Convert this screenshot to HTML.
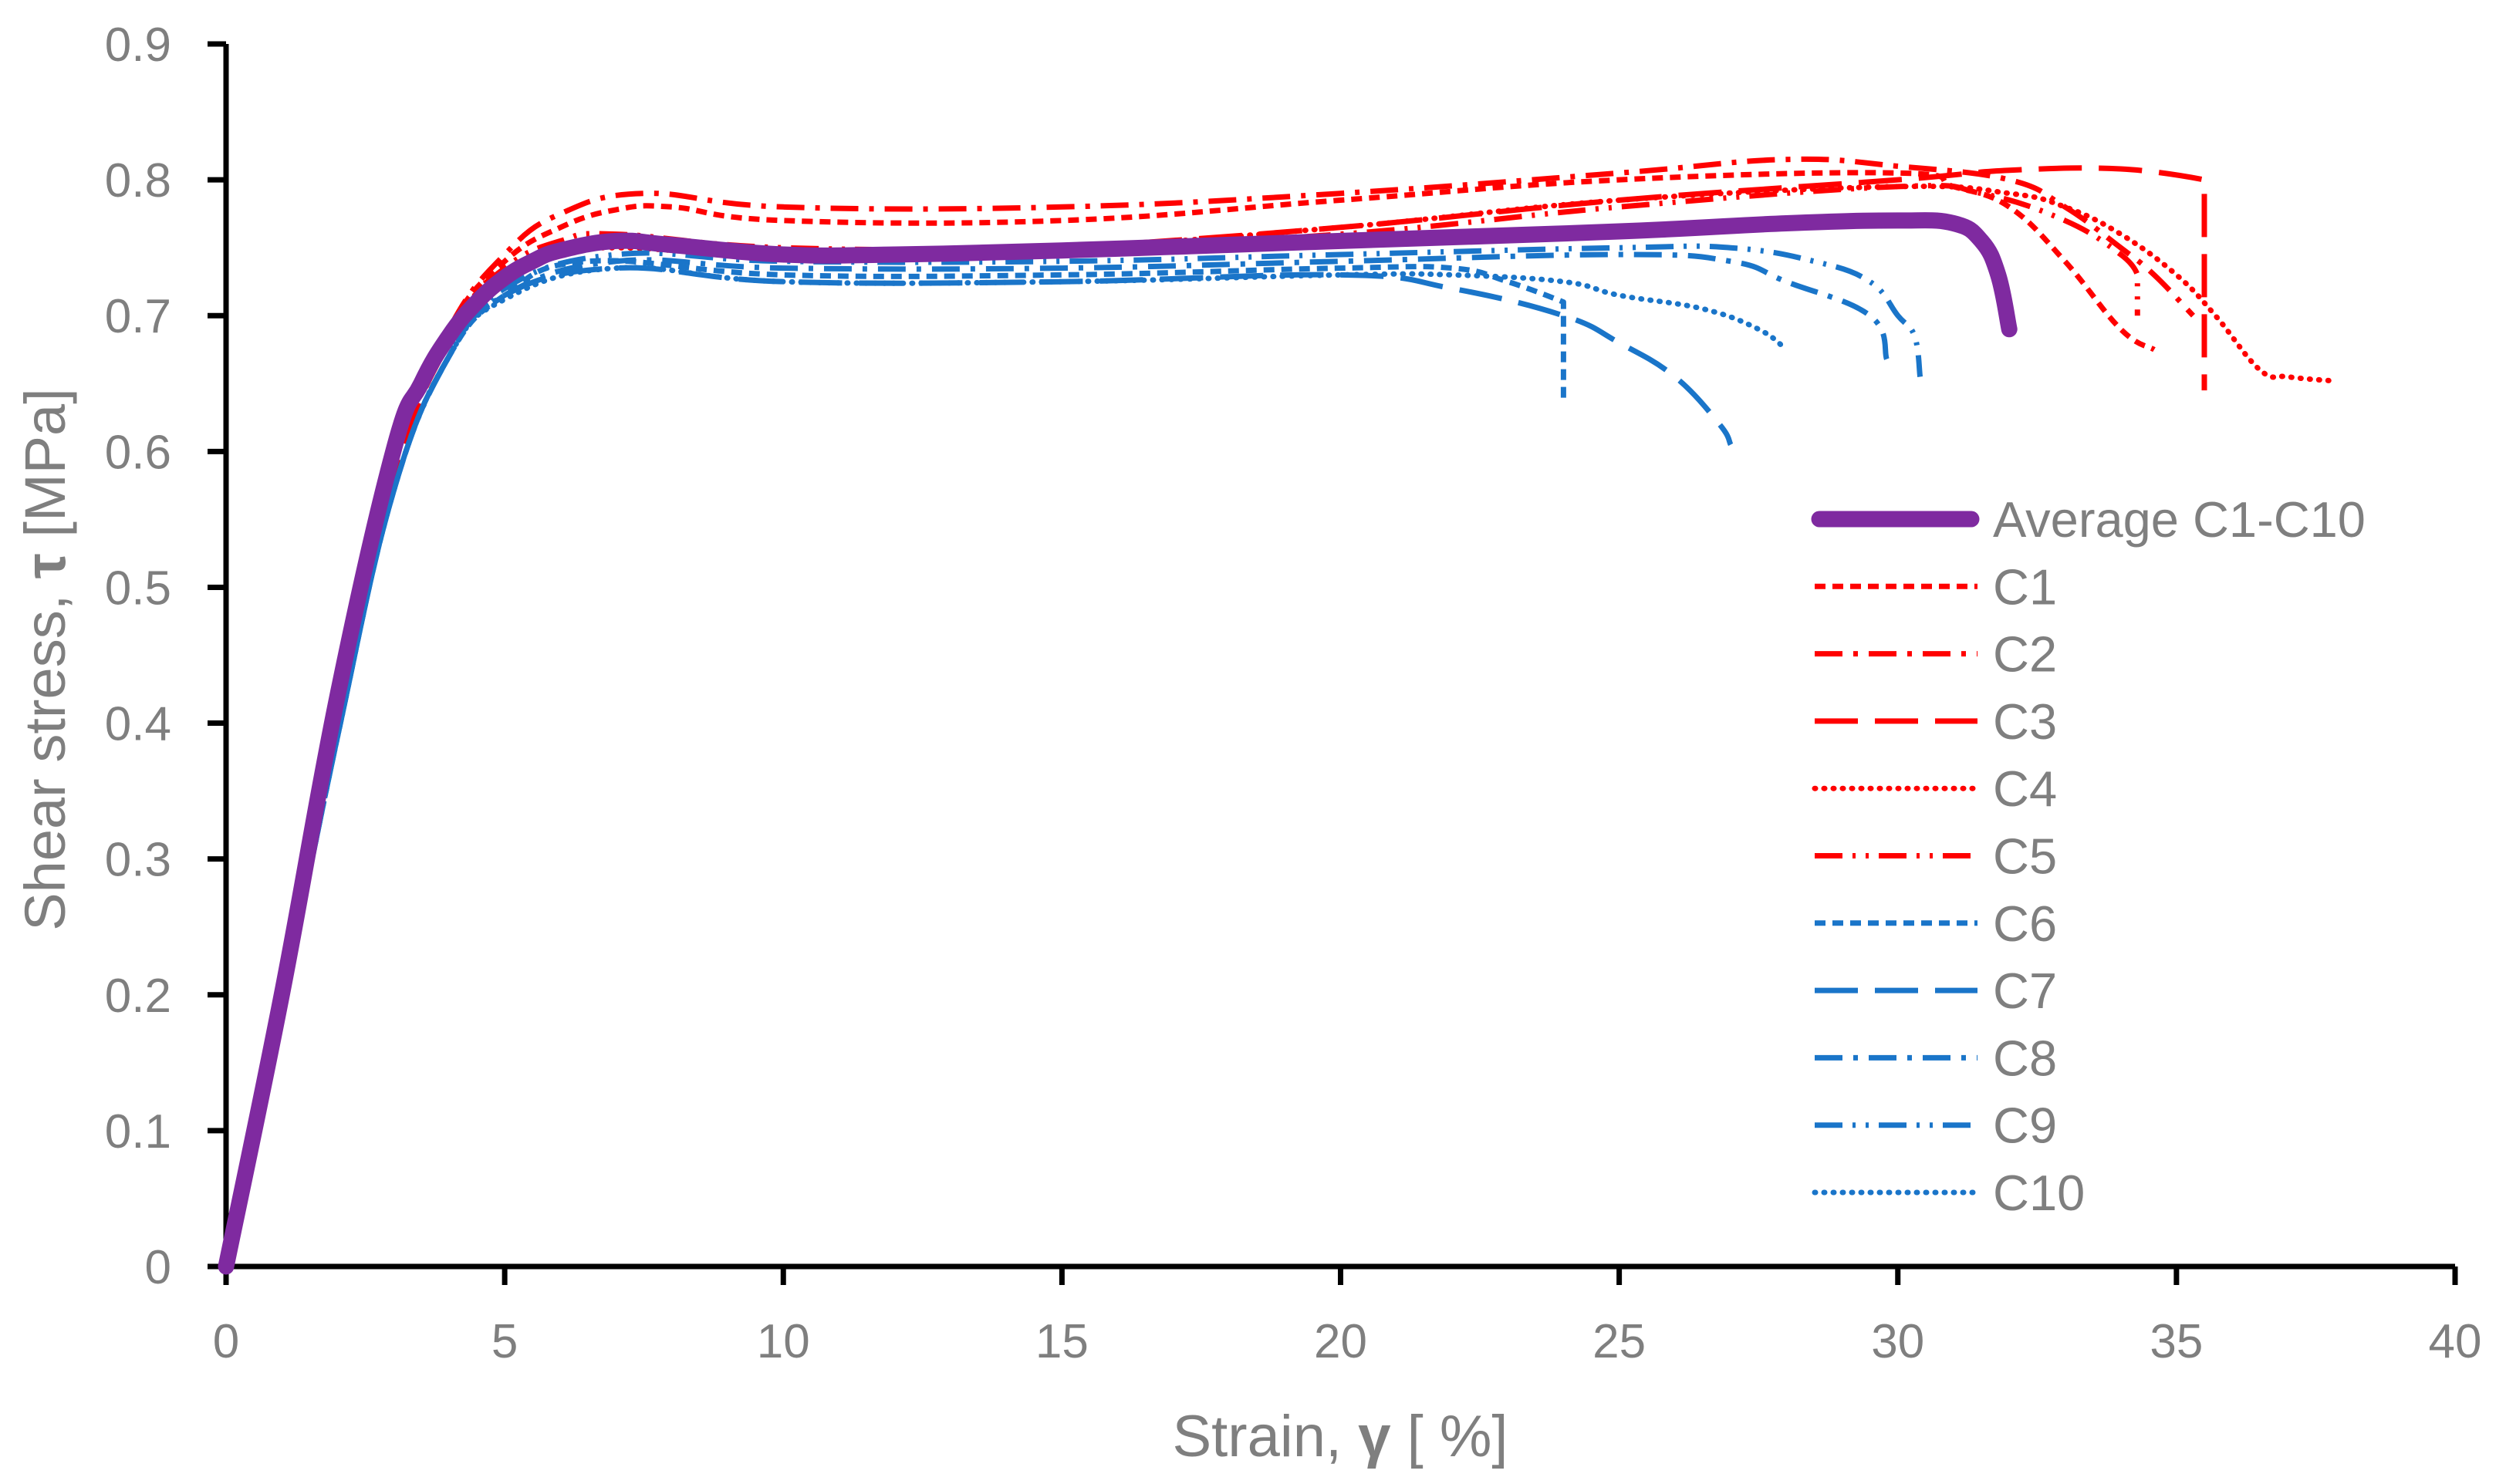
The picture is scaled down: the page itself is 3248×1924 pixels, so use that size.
<!DOCTYPE html>
<html><head><meta charset="utf-8"><style>
html,body{margin:0;padding:0;background:#fff;}
svg{display:block;font-family:"Liberation Sans","DejaVu Sans",sans-serif;}
</style></head><body>
<svg id="chart" width="3248" height="1924" viewBox="0 0 3248 1924" xmlns="http://www.w3.org/2000/svg">
<g id="grid"></g>
<g id="series"></g>
<g id="legend"></g>
<text x="1737" y="1888" text-anchor="middle" font-size="76" fill="#7f7f7f">Strain,  <tspan font-weight="bold">γ</tspan> [ %]</text>
<text transform="translate(84,855) rotate(-90)" text-anchor="middle" font-size="74" fill="#7f7f7f">Shear stress, <tspan font-weight="bold">τ</tspan>  [MPa]</text>
</svg>
<script>
const xTicks = [0,5,10,15,20,25,30,35,40];
const yTicks = [0,0.1,0.2,0.3,0.4,0.5,0.6,0.7,0.8,0.9];
const seriesNames = ["Average C1-C10","C1","C2","C3","C4","C5","C6","C7","C8","C9","C10"];
const avgX = [0,1,2,3,3.5,4,4.5,5,5.5,6,7,8,10,12,15,20,25,28,30,31,31.5,31.8,32];
const avgY = [0,0.2,0.42,0.6,0.65,0.685,0.71,0.728,0.74,0.748,0.755,0.752,0.745,0.745,0.748,0.755,0.762,0.768,0.77,0.768,0.755,0.73,0.69];
const c1X = [0,1,2,3,4,5,6,7,8,10,15,20,25,30,31,32,33,34,34.6];
const c1Y = [0,0.2,0.41,0.59,0.69,0.74,0.765,0.778,0.78,0.77,0.77,0.785,0.80,0.805,0.795,0.78,0.74,0.69,0.675];
const c2X = [0,1,2,3,4,5,6,7.5,10,15,20,25,28,30,32,33,34,34.6,35.3];
const c2Y = [0,0.2,0.41,0.59,0.69,0.745,0.775,0.79,0.78,0.78,0.79,0.805,0.815,0.81,0.80,0.78,0.75,0.73,0.70];
const c3X = [0,1,2,3,4,5,6,7,10,12,15,20,25,30,32,34,35.5,35.5];
const c3Y = [0,0.19,0.4,0.58,0.68,0.73,0.75,0.755,0.745,0.745,0.75,0.765,0.785,0.80,0.807,0.808,0.80,0.645];
const c4X = [0,1,2,3,4,5,6,7,10,15,20,25,30,32,33,34,35,35.7,36.5,37,37.8];
const c4Y = [0,0.2,0.41,0.59,0.69,0.73,0.745,0.75,0.745,0.75,0.765,0.785,0.795,0.79,0.78,0.76,0.73,0.70,0.66,0.655,0.652];
const c5X = [0,1,2,3,4,5,6,7,10,15,20,25,30,31.5,33,34,34.3,34.3];
const c5Y = [0,0.2,0.41,0.59,0.69,0.735,0.755,0.76,0.75,0.75,0.76,0.78,0.795,0.79,0.77,0.745,0.73,0.70];
const c6X = [0,1,2,3,4,5,6.5,10,15,20,22,23,24,24];
const c6Y = [0,0.19,0.39,0.57,0.67,0.715,0.74,0.73,0.73,0.735,0.735,0.725,0.71,0.635];
const c7X = [0,1,2,3,4,5,7,10,15,20,22,24,25,26,26.8,27];
const c7Y = [0,0.19,0.39,0.57,0.67,0.715,0.735,0.725,0.725,0.73,0.72,0.70,0.68,0.655,0.62,0.605];
const c8X = [0,1,2,3,4,5,7,10,15,20,25,27,28,29.5,29.8];
const c8Y = [0,0.19,0.39,0.57,0.67,0.715,0.74,0.735,0.735,0.74,0.745,0.74,0.725,0.70,0.668];
const c9X = [0,1,2,3,4,5,7,10,15,20,25,27,28.5,29.5,30,30.3,30.4];
const c9Y = [0,0.19,0.39,0.57,0.67,0.72,0.745,0.74,0.74,0.745,0.75,0.75,0.74,0.725,0.70,0.685,0.655];
const c10X = [0,1,2,3,4,5,7,10,15,20,22,24,25,26.5,27.5,28];
const c10Y = [0,0.19,0.39,0.57,0.67,0.712,0.735,0.725,0.725,0.73,0.73,0.725,0.715,0.705,0.69,0.675];

const X0=293,X1=3182,Y0=1642,Y1=57,XMAX=40,YMAX=0.9;
const sx=v=>X0+(X1-X0)*v/XMAX;
const sy=v=>Y0-(Y0-Y1)*v/YMAX;
const NS="http://www.w3.org/2000/svg";
function mk(tag,parent){const e=document.createElementNS(NS,tag);parent.appendChild(e);return e;}
const vert=(a,b)=>Math.abs(a[0]-b[0])<2;
function smooth(pts){
  let d='M'+pts[0][0].toFixed(1)+' '+pts[0][1].toFixed(1);
  for(let i=0;i<pts.length-1;i++){
    const p0=pts[Math.max(0,i-1)],p1=pts[i],p2=pts[i+1],p3=pts[Math.min(pts.length-1,i+2)];
    if(vert(p1,p2)){d+=' L'+p2[0].toFixed(1)+' '+p2[1].toFixed(1);continue;}
    const t=0.2;
    let c1=[p1[0]+(p2[0]-p0[0])*t,p1[1]+(p2[1]-p0[1])*t];
    let c2=[p2[0]-(p3[0]-p1[0])*t,p2[1]-(p3[1]-p1[1])*t];
    if(i>0&&vert(p0,p1))c1=p1;
    if(i+2<pts.length&&vert(p2,p3))c2=p2;
    d+=' C'+c1[0].toFixed(1)+' '+c1[1].toFixed(1)+' '+c2[0].toFixed(1)+' '+c2[1].toFixed(1)+' '+p2[0].toFixed(1)+' '+p2[1].toFixed(1);
  }
  return d;
}
const grid=document.getElementById('grid');
let ax=mk('line',grid);ax.setAttribute('x1',X0);ax.setAttribute('x2',X1);ax.setAttribute('y1',Y0);ax.setAttribute('y2',Y0);ax.setAttribute('stroke','#000');ax.setAttribute('stroke-width','7');


let ay=mk('line',grid);ay.setAttribute('x1',X0);ay.setAttribute('x2',X0);ay.setAttribute('y1',Y0);ay.setAttribute('y2',Y1);ay.setAttribute('stroke','#000');ay.setAttribute('stroke-width','7');


xTicks.forEach(t=>{
  const l=mk('line',grid);l.setAttribute('x1',sx(t));l.setAttribute('x2',sx(t));l.setAttribute('y1',Y0);l.setAttribute('y2',Y0+24);l.setAttribute('stroke','#000');l.setAttribute('stroke-width','7');
  
  
  const tx=mk('text',grid);tx.setAttribute('x',sx(t));tx.setAttribute('y',1760);tx.setAttribute('text-anchor','middle');tx.setAttribute('font-size','62');tx.setAttribute('fill','#7f7f7f');tx.textContent=t;
  
  
});
yTicks.forEach(t=>{
  const l=mk('line',grid);l.setAttribute('x1',X0-24);l.setAttribute('x2',X0);l.setAttribute('y1',sy(t));l.setAttribute('y2',sy(t));l.setAttribute('stroke','#000');l.setAttribute('stroke-width','7');
  
  
  const tx=mk('text',grid);tx.setAttribute('x',222);tx.setAttribute('y',sy(t)+22);tx.setAttribute('text-anchor','end');tx.setAttribute('font-size','62');tx.setAttribute('fill','#7f7f7f');tx.textContent=t;
  
  
});
const RED='#ff0000',BLUE='#1a75c9',PURP='#7f2aa0';
const styles=[
 {c:PURP,w:21,d:'',cap:'round'},
 {c:RED,w:7,d:'14 9',cap:'butt'},
 {c:RED,w:7,d:'36 14 6 14',cap:'butt'},
 {c:RED,w:7,d:'56 22',cap:'butt'},
 {c:RED,w:7,d:'1 11',cap:'round'},
 {c:RED,w:7,d:'36 13 4 13 4 13',cap:'butt'},
 {c:BLUE,w:7,d:'14 9',cap:'butt'},
 {c:BLUE,w:7,d:'56 22',cap:'butt'},
 {c:BLUE,w:7,d:'36 14 6 14',cap:'butt'},
 {c:BLUE,w:7,d:'36 13 4 13 4 13',cap:'butt'},
 {c:BLUE,w:7,d:'1 11',cap:'round'}];
const data=[[avgX,avgY],[c1X,c1Y],[c2X,c2Y],[c3X,c3Y],[c4X,c4Y],[c5X,c5Y],[c6X,c6Y],[c7X,c7Y],[c8X,c8Y],[c9X,c9Y],[c10X,c10Y]];
const sg=document.getElementById('series');
const order=[1,2,3,4,5,6,7,8,9,10,0];
order.forEach(i=>{
  const [xs,ys]=data[i];const st=styles[i];
  const p=mk('path',sg);
  p.setAttribute('d',smooth(xs.map((x,k)=>[sx(x),sy(ys[k])])));
  p.setAttribute('fill','none');p.setAttribute('stroke',st.c);p.setAttribute('stroke-width',st.w);
  if(st.d)p.setAttribute('stroke-dasharray',st.d);
  p.setAttribute('stroke-linecap',st.cap);p.setAttribute('stroke-linejoin','round');
  
  
});
const lg=document.getElementById('legend');
seriesNames.forEach((n,i)=>{
  const y=673+i*87.3;const st=styles[i];
  const l=mk('line',lg);l.setAttribute('x1',i?2352:2358);l.setAttribute('x2',i?2563:2555);l.setAttribute('y1',y);l.setAttribute('y2',y);
  l.setAttribute('stroke',st.c);l.setAttribute('stroke-width',st.w);if(st.d)l.setAttribute('stroke-dasharray',st.d);l.setAttribute('stroke-linecap',st.cap);
  
  
  const t=mk('text',lg);t.setAttribute('x',2583);t.setAttribute('y',y+23);t.setAttribute('font-size','65');t.setAttribute('fill','#7f7f7f');t.textContent=n;
  
  
});
</script>
</body></html>
